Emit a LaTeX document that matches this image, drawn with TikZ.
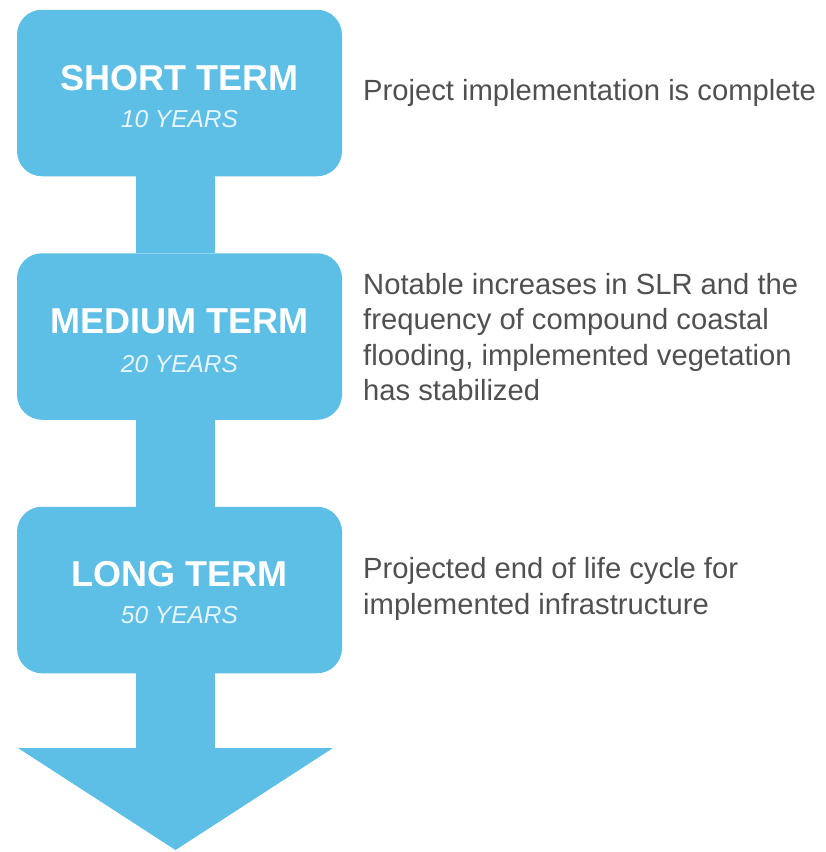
\documentclass[tikz,border=0pt]{standalone}
\usepackage{fontspec}
\setmainfont{Liberation Sans}
\usetikzlibrary{calc}

\definecolor{termblue}{RGB}{93,190,230}
\definecolor{notegray}{RGB}{80,80,80}
\definecolor{subwhite}{RGB}{232,246,252}

\tikzset{
  termbox/.style={fill=termblue, draw=none, rounded corners=25pt,
    minimum width=325pt, minimum height=166.5pt, inner sep=0pt},
  shaft/.style={draw=termblue, line width=79pt},
  termtitle/.style={anchor=base, inner sep=0pt, text=white,
    font=\bfseries\fontsize{36}{40}\selectfont},
  termyears/.style={anchor=base, inner sep=0pt, text=subwhite,
    font=\itshape\fontsize{24.5}{28}\selectfont},
  % multi-line notes are placed by the baseline of their last line
  note/.style={anchor=base west, inner sep=0pt, align=left, text=notegray,
    font=\fontsize{29.2}{35.5}\selectfont}
}

\begin{document}
\begin{tikzpicture}[x=1pt,y=-1pt]
  \useasboundingbox (0,0) rectangle (826,852);

  % stage boxes
  \node[termbox] (short)  at (179.5,93)    {};
  \node[termbox] (medium) at (179.5,336.5) {};
  \node[termbox] (long)   at (179.5,590)   {};

  % shafts joining the stages
  \draw[shaft] ([xshift=-4pt]short.south)  -- ([xshift=-4pt]medium.north);
  \draw[shaft] ([xshift=-4pt]medium.south) -- ([xshift=-4pt]long.north);

  % final shaft and arrow head
  \coordinate (headtop) at (175.5,748);
  \coordinate (headL)   at (18,748);
  \coordinate (headR)   at (333,748);
  \coordinate (tip)     at (175.5,850);
  \draw[shaft] ([xshift=-4pt]long.south) -- ([yshift=-1pt]headtop);
  \fill[termblue] (headL) -- (headR) -- (tip) -- cycle;

  % stage labels
  \node[termtitle] at ($(short.north)+(0,80.5)$)  {SHORT TERM};
  \node[termyears] at ($(short.north)+(0,118)$)   {10 YEARS};
  \node[termtitle] at ($(medium.north)+(0,80)$)   {MEDIUM TERM};
  \node[termyears] at ($(medium.north)+(0,119)$)  {20 YEARS};
  \node[termtitle] at ($(long.north)+(0,80)$)     {LONG TERM};
  \node[termyears] at ($(long.north)+(0,117)$)    {50 YEARS};

  % descriptions
  \node[note] (n1) at (363,100)   {Project implementation is complete};
  \node[note] (n2) at (363,400.5) {Notable increases in SLR and the\\frequency of compound coastal\\flooding, implemented vegetation\\has stabilized};
  \node[note] (n3) at (363,614)   {Projected end of life cycle for\\implemented infrastructure};
\end{tikzpicture}
\end{document}
